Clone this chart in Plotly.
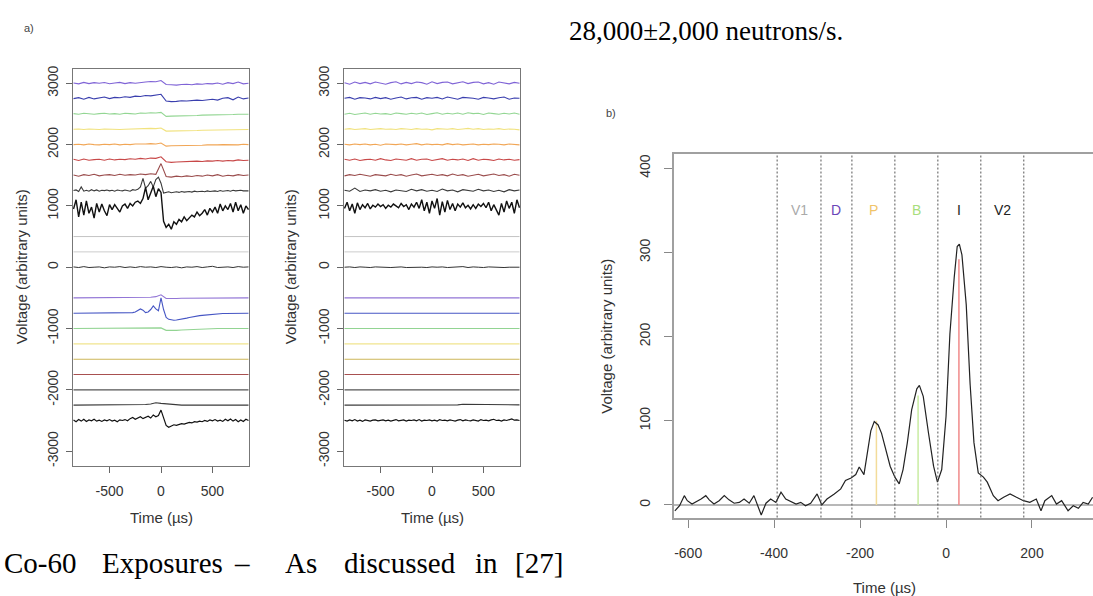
import plotly.graph_objects as go

W, H = 1093, 596

# ---------------- panel a : time grids ----------------
T35 = [-850, -800, -750, -700, -650, -600, -550, -500, -450, -400, -350, -300, -250, -200, -150,
       -100, -50, 0, 50, 100, 150, 200, 250, 300, 350, 400, 450, 500, 550, 600, 650, 700, 750, 800, 850]
T69 = [-850, -825, -800, -775, -750, -725, -700, -675, -650, -625, -600, -575, -550, -525, -500,
       -475, -450, -425, -400, -375, -350, -325, -300, -275, -250, -225, -200, -175, -150, -125,
       -100, -75, -50, -25, 0, 25, 50, 75, 100, 125, 150, 175, 200, 225, 250, 275, 300, 325, 350,
       375, 400, 425, 450, 475, 500, 525, 550, 575, 600, 625, 650, 675, 700, 725, 750, 775, 800,
       825, 850]
T2 = [-850, 850]

# channel baselines (stack offsets) and colours
OFFSETS_TOP = [3000, 2750, 2500, 2250, 2000, 1750, 1500, 1250, 1000]
OFFSETS_BOTTOM = [-500, -750, -1000, -1250, -1500, -1750, -2000, -2250, -2500]
OFFSETS_MID = [500, 250, 0]
COLORS_TOP = ["#7f63d6", "#3a3fae", "#93d693", "#f1e27e", "#f1a656", "#c84848", "#9a4c4c", "#3a3a3a", "#111111"]
COLORS_BOTTOM = ["#9275d6", "#4656c4", "#92d492", "#f0e48e", "#cdb659", "#a85050", "#555555", "#3a3a3a", "#111111"]
COLORS_MID = ["#c4c4c4", "#cccccc", "#333333"]

# ---------- panel a1 (left) deviations from baseline ----------
A1_PURPLE = [5, -10, 15, -5, 10, 0, 12, -8, 5, 15, -5, 10, 0, 15, 20, 30, 25, 45, -20, -25,
             -30, -20, -15, -25, -10, -15, -5, -10, 5, -15, 10, -5, 20, -10, 0]
A1_BLUE = [0, 15, -10, 20, -5, 10, 25, 0, 20, 15, 30, 20, 40, 35, 50, 45, 60, 70, -40, -50,
           -45, -35, -40, -30, -25, -30, -20, -10, -25, 5, 15, -20, 25, -5, 10]
A1_GREEN = [5, -5, 10, 0, -5, 5, 10, 0, 5, -5, 10, 5, 0, 15, 10, 20, 15, 25, -40, -35,
            -35, -30, -30, -25, -25, -20, -20, -15, -15, -10, -15, -10, -5, -10, -5]
A1_YELLOW = [0, 5, -5, 5, 0, -5, 5, 0, 5, -5, 0, 5, 10, 5, 10, 15, 10, 20, -30, -30,
             -25, -25, -20, -20, -20, -15, -15, -10, -15, -10, -10, -5, -10, -5, -5]
A1_ORANGE = [0, 5, -5, 10, 0, -5, 5, 0, 10, -5, 5, 0, 10, 5, 10, 15, 10, 25, -25, -20,
             -20, -15, -15, -10, -15, -10, -5, -10, -5, 0, -5, 0, -5, 5, 0]
A1_RED = [10, -10, 15, -5, 5, 10, -5, 15, 0, 10, 5, 20, 10, 25, 15, 30, 25, 50, -30, -40,
          -35, -30, -25, -30, -20, -25, -15, -20, -10, -20, -10, -15, 0, -10, -5]
A1_DARKRED = [5, -15, 10, -5, 15, -10, 5, 10, -5, 15, 0, 10, 5, 20, 10, 25, 15, 190, -20, -30,
              -15, -25, -10, -20, -5, -15, 5, -10, 10, -15, 0, -10, 10, -5, 5]
A1_BLACK1 = [0, 10, -15, 60, -10, 5, -10, 15, -5, 10, -10, 5, 0, 10, -5, 5, -10, 10, 0, -5,
             10, 0, -10, 15, 5, 20, 60, 200, 40, 80, 150, 60, 180, 220, 120, -40, -30, -20, -35, -25,
             -20, -30, -15, -25, -20, -15, -25, -10, -20, -15, -10, -20, -5, -15, -10, -5, -15, 0, -10, -5,
             0, -10, 5, -5, 0, 5, -5, 0, -5]
A1_BLACK2 = [-50, 100, -180, 60, -150, 80, -120, -20, -200, 40, -100, 30, -80, -160, 20,
             -60, 20, -40, -100, 0, 30, -40, 40, 0, 60, 80, 40, 120, 300, 100,
             200, 320, 150, 280, 220, -250, -350, -300, -380, -260, -300, -220, -260, -180, -240,
             -200, -150, -180, -100, -160, -120, -60, -150, -40, -100, -20, -120, 30, -80, 0,
             -60, 40, -100, 60, -80, 20, -120, 0, -60]
A1_MID0 = [5, -5, 10, -5, 0, 5, -10, 5, 0, 10, -5, 5, -5, 10, 0, 5, -5, 10, 0, -5,
           5, -10, 5, 0, 10, -5, 5, 15, -5, 0, 5, -5, 10, 0, 5]
A1_B_PURPLE = [0, 0, 5, 0, 0, 5, 0, 0, 5, 0, 0, 5, 0, 5, 10, 10, 20, 50, -10, -15,
               -10, -5, -5, 0, 0, 0, 5, 0, 0, 5, 0, 0, 5, 0, 0]
A1_B_BLUE = [0, 0, 0, 0, 0, 0, 0, 0, 0, 0, 0, 0, 0, 0, 5, 0, 0, 5, 0, 0,
             5, 0, 5, 10, 20, 40, 70, 50, 10, 20, 60, 120, 70, 40, 250, 60, -70, -100, -110, -115,
             -110, -105, -100, -90, -80, -70, -60, -55, -50, -40, -35, -30, -25, -20, -15, -15, -10, -10, -5, -5,
             -5, 0, 0, 0, 0, 0, 0, 0, 0]
A1_B_GREEN = [0, 0, 0, 0, 0, 0, 0, 0, 0, 0, 0, 0, 0, 5, 5, 5, 10, 10, -30, -35,
              -30, -25, -20, -15, -10, -10, -5, -5, 0, 0, 0, 0, 0, 0, 0]
FLAT = [0, 0]
A1_B_DARK2 = [0, 0, 0, 0, 0, 0, 0, 0, 0, 0, 0, 0, 0, 5, 10, 20, 40, 30, 20, 10,
              5, 0, 0, 0, 0, 0, 0, 0, 0, 0, 0, 0, 0, 0, 0]
A1_B_BLACK = [10, -20, 15, -10, 20, -15, 10, -5, 20, -10, 5, -15, 10, -5, 15,
              -10, 5, -20, 10, 0, 15, -5, 30, 50, 20, 40, 60, 30, 50, 70,
              40, 90, 60, 80, 170, 60, -80, -110, -90, -70, -80, -60, -50, -60, -40,
              -30, -40, -20, -25, -10, -20, 0, -15, 10, -5, 15, -10, 5, -15, 20,
              -5, 25, -10, 15, -20, 10, -15, 20, 0]

# ---------- panel a2 (right) deviations ----------
A2_PURPLE = [10, -15, 20, -5, 15, -10, 20, 5, -15, 10, 25, -10, 15, -5, 20, 10, -15, 25, -5, 15,
             20, -10, 10, 25, -5, 15, 20, -10, 10, -15, 20, 5, -10, 15, 0]
A2_BLUE = [5, 20, -10, 15, 10, -5, 20, 0, 15, -10, 10, 25, -5, 15, 20, -10, 15, 5, 20, -5,
           25, 10, -10, 20, 15, 5, -10, 20, 10, -5, 15, 25, -10, 10, 5]
A2_GREEN = [-5, 10, -10, 5, 15, -5, 10, 0, 5, -10, 15, 5, -5, 10, 0, 15, -10, 5, 20, -5,
            10, 0, 15, -5, 20, 5, 10, -10, 15, 5, -5, 10, 0, 15, -5]
A2_YELLOW = [0, 10, -5, 5, 10, -5, 5, 10, 0, 5, -5, 10, 5, -5, 10, 0, 5, -10, 10, 5,
             0, 10, -5, 5, 15, 0, 10, -5, 5, 0, 10, -5, 5, 0, -10]
A2_ORANGE = [5, -5, 10, 0, 10, -5, 5, -10, 10, 5, 0, 10, -5, 5, 15, -5, 10, 0, 5, -5,
             15, 0, 10, -5, 5, 10, -5, 5, 0, 10, 5, -5, 10, 0, -5]
A2_RED = [10, -5, 15, -10, 5, 10, -5, 20, 0, -10, 15, 5, -5, 20, -5, 10, 15, -10, 5, 20,
          -5, 10, 0, 15, -10, 20, -5, 10, 5, -10, 15, 0, 10, -5, 5]
A2_DARKRED = [-10, 10, -5, 15, 0, -15, 10, 5, -10, 15, -5, 10, -15, 5, 20, -10, 5, 15, -5, 10,
              -10, 20, -5, 10, -15, 5, 15, -10, 5, 20, -5, 10, -15, 15, 0]
A2_BLACK1 = [5, -10, 40, -15, 10, -5, 15, -10, 5, -20, 10, 0, -15, 20, -5, 15, -10, 5, -15, 25,
             -5, 10, -20, 15, 0, -10, 20, -5, 10, -15, 5, -20, 15, -5, 10]
A2_BLACK2 = [-40, 60, -80, 30, -120, 50, -60, 20, -30, 40, -50, 10, -20, 30, -10,
             20, -40, 10, -20, 30, 0, -30, 40, -10, 20, -60, 30, -20, 60, -40,
             100, -80, 60, -120, 80, -40, 120, -150, 70, -100, 90, -60, 40, -80, 30,
             -20, 50, -30, 10, -50, 20, -40, 30, -10, 40, -30, 60, -80, 20, -60,
             -150, 40, -100, 80, -40, 60, -120, 100, -30]
A2_MID0 = [0, 5, -5, 5, 0, -5, 5, 0, 5, -5, 0, 5, -5, 0, 5, 0, -5, 5, 0, 5,
           -5, 0, 5, 10, -5, 5, 0, -5, 5, 0, 5, -5, 0, 5, 0]
A2_B_DARK2 = [0, 0, 0, 0, 0, 0, 0, 0, 0, 0, 0, 0, 0, 0, 0, 0, 0, 0, 0, 0,
              0, 0, 5, 15, 15, 15, 10, 15, 10, 5, 10, 5, 5, 5, 5]
A2_B_BLACK = [5, -10, 10, -5, 15, -10, 5, -15, 10, 0, -10, 5, 10, -5, 0,
              10, -5, 5, -10, 5, 15, -5, 0, 10, -10, 5, 0, 10, -5, 15,
              -10, 5, 0, 10, -5, 5, -10, 15, 0, 5, -5, 10, 0, -10, 5,
              15, -5, 10, 0, -5, 10, 5, -10, 15, 0, 5, -5, 10, 20, 0,
              5, -10, 10, 0, 15, 25, 5, 10, 0]

# ---------------- panel b ----------------
B_TIME = [-631, -620, -609, -602, -591, -583, -570, -559, -551, -540, -528, -516, -505, -493, -481,
          -470, -458, -447, -439, -430, -419, -408, -396, -384, -373, -362, -349, -338, -327, -315,
          -300, -289, -277, -260, -245, -234, -221, -210, -202, -191, -183, -175, -167, -158, -150,
          -142, -130, -119, -109, -100, -90, -80, -68, -62, -53, -41, -29, -20, -10, 0,
          9, 19, 26, 31, 37, 47, 56, 65, 75, 87, 96, 110, 121, 134, 149,
          164, 180, 195, 210, 221, 230, 246, 257, 269, 284, 296, 308, 319, 331, 341]
B_VOLT = [-7, -1, 11, 5, 1, 3, 7, 11, 6, 1, 5, 11, 6, 2, 3,
          7, 2, 11, 1, -12, 2, 7, 3, 15, 7, 4, 1, 3, -1, 2,
          13, 0, 7, 13, 19, 29, 32, 36, 45, 36, 60, 88, 99, 95, 85,
          70, 46, 33, 25, 42, 74, 113, 138, 142, 129, 86, 46, 27, 42, 105,
          203, 270, 307, 310, 297, 238, 144, 74, 38, 33, 27, 11, 5, 9, 13,
          9, 5, 3, 7, -7, 5, 11, 1, 5, -7, -1, -4, 3, 1, 9]
BOUNDS = [-393, -291, -219, -119, -19, 81, 181]
REGION_LABELS = ["V1", "D", "P", "B", "I", "V2"]
REGION_COLORS = ["#aaaaaa", "#6a45b8", "#f0c46a", "#a8de7c", "#222222", "#222222"]
PEAK_T = [-162, -65, 30]
PEAK_V = [100, 130, 292]
PEAK_COLORS = ["#f3dc9a", "#c9eca2", "#f08a8a"]

XTICKS_A = [-500, 0, 500]
YTICKS_A = [-3000, -2000, -1000, 0, 1000, 2000, 3000]
XTICKS_B = [-600, -400, -200, 0, 200]
YTICKS_B = [0, 100, 200, 300, 400]

fig = go.Figure()


def add_line(xs, dev, off, color, xa, ya, width=1.0):
    fig.add_trace(go.Scatter(x=xs, y=[off + v for v in dev], mode="lines",
                             line=dict(color=color, width=width),
                             xaxis=xa, yaxis=ya, showlegend=False, hoverinfo="skip"))


# panel a1
a1 = [(T35, A1_PURPLE), (T35, A1_BLUE), (T35, A1_GREEN), (T35, A1_YELLOW), (T35, A1_ORANGE),
      (T35, A1_RED), (T35, A1_DARKRED), (T69, A1_BLACK1), (T69, A1_BLACK2)]
a1b = [(T35, A1_B_PURPLE), (T69, A1_B_BLUE), (T35, A1_B_GREEN), (T2, FLAT), (T2, FLAT),
       (T2, FLAT), (T2, FLAT), (T35, A1_B_DARK2), (T69, A1_B_BLACK)]
a1m = [(T2, FLAT), (T2, FLAT), (T35, A1_MID0)]
a2 = [(T35, A2_PURPLE), (T35, A2_BLUE), (T35, A2_GREEN), (T35, A2_YELLOW), (T35, A2_ORANGE),
      (T35, A2_RED), (T35, A2_DARKRED), (T35, A2_BLACK1), (T69, A2_BLACK2)]
a2b = [(T2, FLAT), (T2, FLAT), (T2, FLAT), (T2, FLAT), (T2, FLAT),
       (T2, FLAT), (T2, FLAT), (T35, A2_B_DARK2), (T69, A2_B_BLACK)]
a2m = [(T2, FLAT), (T2, FLAT), (T35, A2_MID0)]

for (xa, ya), top, bot, mid in [(("x", "y"), a1, a1b, a1m), (("x2", "y2"), a2, a2b, a2m)]:
    for (t, d), off, c in zip(mid, OFFSETS_MID, COLORS_MID):
        add_line(t, d, off, c, xa, ya, 1)
    for i, ((t, d), off, c) in enumerate(zip(top, OFFSETS_TOP, COLORS_TOP)):
        add_line(t, d, off, c, xa, ya, 1.4 if i == 8 else 1.1)
    for i, ((t, d), off, c) in enumerate(zip(bot, OFFSETS_BOTTOM, COLORS_BOTTOM)):
        add_line(t, d, off, c, xa, ya, 1.2 if i == 8 else 1.1)

# panel b peak markers
for t, v, c in zip(PEAK_T, PEAK_V, PEAK_COLORS):
    fig.add_trace(go.Scatter(x=[t, t], y=[0, v], mode="lines", line=dict(color=c, width=1.5),
                             xaxis="x3", yaxis="y3", showlegend=False, hoverinfo="skip"))
fig.add_trace(go.Scatter(x=B_TIME, y=B_VOLT, mode="lines", line=dict(color="#222222", width=1.2),
                         xaxis="x3", yaxis="y3", showlegend=False, hoverinfo="skip"))


def px(x):
    return x / W


def py(y):
    return 1 - y / H


tickfont_a = dict(family="Liberation Sans, Arial, sans-serif", size=14, color="#333333")
tickfont_b = dict(family="Liberation Sans, Arial, sans-serif", size=14, color="#333333")


def xa_a(dom):
    return dict(domain=dom, range=[-855, 855], tickmode="array", tickvals=XTICKS_A,
                ticktext=[str(v) if v >= 0 else "-" + str(-v) for v in XTICKS_A],
                ticks="outside", ticklen=6, tickcolor="#666", showline=True, linecolor="#777",
                linewidth=1, mirror=True, showgrid=False, zeroline=False, tickfont=tickfont_a,
                ticklabelstandoff=6, fixedrange=True)


def ya_a(anchor):
    return dict(domain=[py(466), py(66)], range=[-3240, 3240], tickmode="array", tickvals=YTICKS_A,
                ticktext=[str(v) if v >= 0 else "-" + str(-v) for v in YTICKS_A],
                ticks="outside", ticklen=6, tickcolor="#666", tickangle=-90, showline=True,
                linecolor="#777", linewidth=1, mirror=True, showgrid=False, zeroline=False,
                tickfont=tickfont_a, ticklabelstandoff=2, anchor=anchor, fixedrange=True)


layout = dict(
    width=W, height=H, margin=dict(l=0, r=0, t=0, b=0),
    paper_bgcolor="white", plot_bgcolor="white", showlegend=False,
    xaxis=dict(xa_a([px(73), px(249)]), anchor="y"),
    yaxis=ya_a("x"),
    xaxis2=dict(xa_a([px(344), px(520)]), anchor="y2"),
    yaxis2=ya_a("x2"),
    xaxis3=dict(domain=[px(674), 1.0], range=[-633, 342], anchor="y3", tickmode="array",
                tickvals=XTICKS_B, ticktext=[str(v) if v >= 0 else "-" + str(-v) for v in XTICKS_B],
                ticks="outside", ticklen=8, tickcolor="#888", showline=True, linecolor="#a0a0a0",
                linewidth=2, mirror=True, showgrid=False, zeroline=False, tickfont=tickfont_b,
                ticklabelstandoff=14, fixedrange=True),
    yaxis3=dict(domain=[py(518), py(152)], range=[-15, 417], anchor="x3", tickmode="array",
                tickvals=YTICKS_B, ticktext=[str(v) for v in YTICKS_B], ticks="outside", ticklen=8,
                tickcolor="#888", tickangle=-90, showline=True, linecolor="#a0a0a0", linewidth=2,
                mirror=False, showgrid=False, zeroline=False, tickfont=tickfont_b,
                ticklabelstandoff=8, fixedrange=True),
)
fig.update_layout(**layout)

# panel b reference line and region boundaries
fig.add_shape(type="line", xref="x3 domain", yref="y3", x0=0, x1=1, y0=0, y1=0,
              line=dict(color="#a0a0a0", width=1.5), layer="below")
for b in BOUNDS:
    fig.add_shape(type="line", xref="x3", yref="y3 domain", x0=b, x1=b, y0=0, y1=1,
                  line=dict(color="#555555", width=1, dash="2px,2px"))
for i, (lab, col) in enumerate(zip(REGION_LABELS, REGION_COLORS)):
    fig.add_annotation(x=(BOUNDS[i] + BOUNDS[i + 1]) / 2, y=350, xref="x3", yref="y3", text=lab,
                       showarrow=False, xanchor="center", yanchor="middle",
                       font=dict(family="Liberation Sans, Arial", size=14, color=col))


def note(x, y, text, font, angle=0, xanchor="center"):
    fig.add_annotation(x=px(x), y=py(y), xref="paper", yref="paper", text=text, textangle=angle,
                       showarrow=False, xanchor=xanchor, yanchor="middle", font=font)


lab_font = dict(family="Liberation Sans, Arial, sans-serif", size=15, color="#333333")
# axis titles
for x, y in [(21, 266), (290, 266)]:
    note(x, y, "Voltage (arbitrary units)", lab_font, angle=-90)
for x, y in [(161, 518), (432, 518)]:
    note(x, y, "Time (µs)", lab_font)
note(607, 336, "Voltage (arbitrary units)", lab_font, angle=-90)
note(884, 588, "Time (µs)", lab_font)
# panel tags
note(29, 25, "a)", dict(family="Liberation Sans, Arial", size=11, color="#444"))
note(611, 111, "b)", dict(family="Liberation Sans, Arial", size=11, color="#444"))

# surrounding page text
serif = "Liberation Serif, Times New Roman, serif"
note(567, 28, "28,000±2,000 neutrons/s.", dict(family=serif, size=27, color="black"), xanchor="left")
for word, x in [("Co-60", 2), ("Exposures", 100), ("–", 232), ("As", 283), ("discussed", 342),
                ("in", 473), ("[27]", 513)]:
    note(x, 564, word, dict(family=serif, size=29, color="black"), xanchor="left")

fig.write_html("out.html")
